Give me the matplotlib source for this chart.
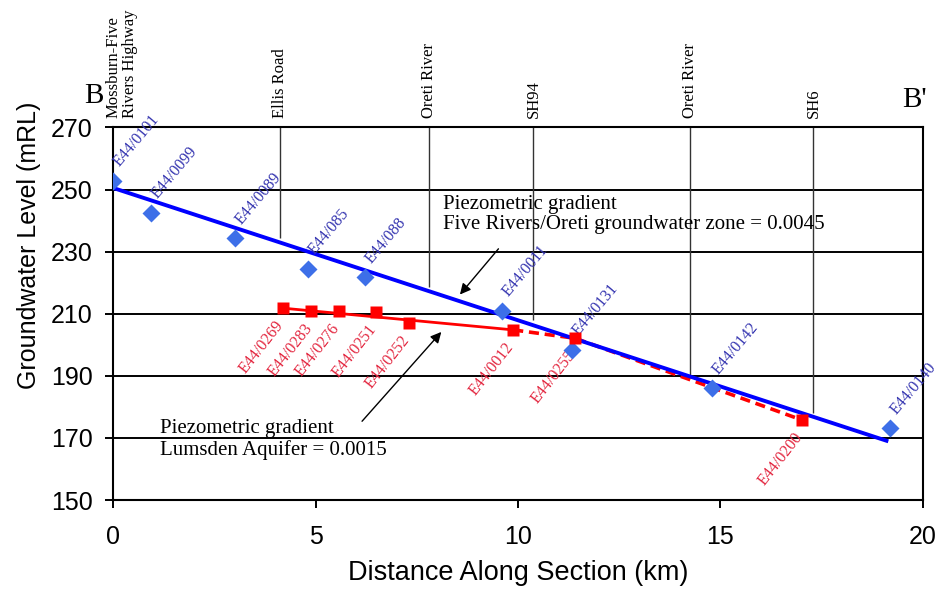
import numpy as np
import matplotlib
matplotlib.use("Agg")
import matplotlib.pyplot as plt

plt.rcParams['font.family'] = ['Liberation Sans', 'DejaVu Sans']
SERIF = ['Liberation Serif', 'DejaVu Serif']

# landmarks crossed by section B-B' (km along section, level where the marker line stops)
landmark_names = ["Mossburn-Five\nRivers Highway", "Ellis Road", "Oreti River", "SH94", "Oreti River", "SH6"]
landmark_km = [0.0, 4.12, 7.80, 10.38, 14.25, 17.30]
landmark_base = [270.0, 234.5, 218.6, 208.0, 189.7, 178.0]

# Five Rivers / Oreti groundwater zone wells (blue)
fr_wells = ["E44/0101", "E44/0099", "E44/0089", "E44/085", "E44/088",
            "E44/0011", "E44/0131", "E44/0142", "E44/0140"]
fr_km = [0.0, 0.92, 3.01, 4.82, 6.22, 9.60, 11.33, 14.79, 19.19]
fr_level = [252.8, 242.6, 234.3, 224.4, 221.7, 210.9, 198.3, 186.0, 173.1]

# Lumsden Aquifer wells (red)
lum_wells = ["E44/0269", "E44/0283", "E44/0276", "E44/0251", "E44/0252",
             "E44/0012", "E44/0255", "E44/0200"]
lum_km = [4.19, 4.89, 5.58, 6.48, 7.31, 9.88, 11.41, 17.01]
lum_level = [211.8, 210.9, 211.0, 210.5, 207.1, 204.8, 202.1, 175.8]

# piezometric gradient line, Five Rivers zone
fr_line_km = [0.0, 19.15]
fr_line_level = [250.5, 168.9]

x_ticks = [0, 5, 10, 15, 20]
y_ticks = [150, 170, 190, 210, 230, 250, 270]

fig = plt.figure(figsize=(9.43, 6.03), dpi=100)
ax = fig.add_axes([0.1202, 0.1708, 0.8583, 0.6178])
ax.set_xlim(0, 20)
ax.set_ylim(150, 270)
ax.set_xticks(x_ticks)
ax.set_yticks(y_ticks)

for y in y_ticks:
    ax.axhline(y, color='black', lw=1.4, zorder=1)
for s in ax.spines.values():
    s.set_linewidth(1.5)
    s.set_color('black')

ax.tick_params(axis='both', direction='out', length=6, width=1.4, labelsize=18)
ax.tick_params(axis='x', pad=12)
ax.tick_params(axis='y', pad=9)
ax.set_xlabel("Distance Along Section (km)", fontsize=19.5, labelpad=8)
ax.set_ylabel("Groundwater Level (mRL)", fontsize=18, labelpad=6)
ax.yaxis.set_label_coords(-0.09, 0.685)

# landmark lines and names above the plot
ax.vlines(landmark_km[1:], landmark_base[1:], 270, color='#333333', lw=1.0, zorder=1.5)
for i, (name, x) in enumerate(zip(landmark_names, landmark_km)):
    dx = 6 if i == 0 else 0
    ax.annotate(name, (x, 270), xytext=(dx, 7), textcoords='offset points',
                rotation=90, ha='center', va='bottom', fontsize=12, family=SERIF,
                multialignment='left', annotation_clip=False, linespacing=1.0)

fig.text(0.0992, 0.829, "B", fontsize=21, family=SERIF, ha='center', va='baseline')
fig.text(0.970, 0.8226, "B'", fontsize=21, family=SERIF, ha='center', va='baseline')

# gradient lines
ax.plot([lum_km[0], lum_km[5]], [lum_level[0], lum_level[5]], color='red', lw=2.0, zorder=3)
ax.plot(lum_km[5:], lum_level[5:], color='red', lw=2.6, ls=(0, (2.8, 1.6)), zorder=3)
ax.plot(fr_line_km, fr_line_level, color='#0000ff', lw=2.8, zorder=3, solid_capstyle='butt')

ax.plot(fr_km, fr_level, 'D', color='#3d6fe8', ms=9.5, mec='none', zorder=4)
ax.plot(lum_km, lum_level, 's', color='red', ms=8, mec='none', zorder=4)

for name, x, y in zip(fr_wells, fr_km, fr_level):
    ax.annotate(name, (x, y), xytext=(7, 8), textcoords='offset points',
                rotation=50, rotation_mode='anchor', ha='left', va='bottom',
                fontsize=11.5, color='#3535b0', family=SERIF, annotation_clip=False)

for name, x, y in zip(lum_wells, lum_km, lum_level):
    ax.annotate(name, (x, y), xytext=(-6, -7), textcoords='offset points',
                rotation=52, rotation_mode='anchor', ha='right', va='top',
                fontsize=11.5, color='#e3263f', family=SERIF, annotation_clip=False)

# gradient annotations
ax.text(8.15, 248.3, "Piezometric gradient\nFive Rivers/Oreti groundwater zone = 0.0045",
        ha='left', va='top', fontsize=15, family=SERIF, linespacing=1.1)
ax.annotate('', xy=(8.52, 215.5), xytext=(9.56, 231.6),
            arrowprops=dict(arrowstyle='-|>', color='black', lw=1.0, mutation_scale=16))

ax.text(1.16, 176.0, "Piezometric gradient\nLumsden Aquifer = 0.0015",
        ha='left', va='top', fontsize=15, family=SERIF, linespacing=1.1)
ax.annotate('', xy=(8.15, 204.8), xytext=(6.10, 174.7),
            arrowprops=dict(arrowstyle='-|>', color='black', lw=1.0, mutation_scale=16))

fig.savefig("out.png", dpi=100)
